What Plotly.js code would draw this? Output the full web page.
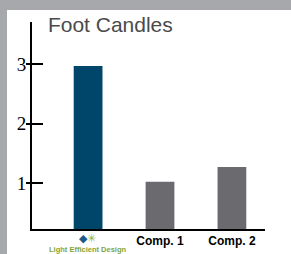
<!DOCTYPE html>
<html><head><meta charset="utf-8">
<script src="https://cdn.plot.ly/plotly-3.0.1.min.js"></script>
<style>
html,body{margin:0;padding:0;background:#a7a8ab;width:291px;height:254px;overflow:hidden}
#chart{position:absolute;left:7px;top:10px;width:284px;height:244px;background:#fff}
</style></head><body>
<div id="chart"></div>
<script>
const categories = ["LED", "Comp. 1", "Comp. 2"];
const tickLabels = ["", "<b>Comp. 1</b>", "<b>Comp. 2</b>"];
const logoText = "Light Efficient Design";
const values = [2.97, 1.02, 1.27];
const barColors = ["#00466a", "#6b6b6f", "#6b6b6f"];
const yTicks = [1, 2, 3];

const trace = {
  type: "bar", x: categories, y: values,
  marker: {color: barColors}, width: 0.4, hoverinfo: "none",
  base: 0
};
const yr = [0.224, 3.71];
const layout = {
  width: 284, height: 244,
  margin: {l: 25, r: 26, t: 12, b: 25, pad: 0},
  paper_bgcolor: "#ffffff", plot_bgcolor: "#ffffff",
  showlegend: false,
  title: {text: "Foot Candles", xref: "container", yref: "container", x: 0.144, xanchor: "left", y: 0.97, yanchor: "top",
    font: {family: "Liberation Sans Narrow, sans-serif", size: 21, color: "#4a4a4a"}},
  xaxis: {
    range: [-0.78, 2.46], type: "category", tickangle: 0, automargin: false,
    tickvals: categories, ticktext: tickLabels,
    showline: true, linecolor: "#000", linewidth: 2, ticks: "", showgrid: false, zeroline: false,
    tickfont: {family: "Liberation Sans Narrow, sans-serif", size: 12, color: "#000"}
  },
  yaxis: {
    range: yr, tickvals: yTicks, ticktext: yTicks.map(String), automargin: false,
    showline: true, linecolor: "#000", linewidth: 2, ticks: "inside", ticklen: 11, tickwidth: 2, tickcolor: "#000",
    showgrid: false, zeroline: false,
    tickfont: {family: "Liberation Serif, Times New Roman, serif", size: 19, color: "#000"}
  },
  yaxis2: {
    range: yr, overlaying: "y", side: "left", tickvals: yTicks, showticklabels: false,
    ticks: "outside", ticklen: 5, tickwidth: 2, tickcolor: "#000", showgrid: false, zeroline: false, showline: false
  },
  annotations: [
    {xref: "x", yref: "paper", x: categories[0], y: -0.008, yanchor: "top", showarrow: false, borderpad: 0,
     text: "<span style='color:#1d5a86;font-size:11px'>◆</span><span style='color:#8cb43c;font-size:11px'>✳</span><br><b>" + logoText + "</b>",
     font: {family: "Liberation Sans Narrow, sans-serif", size: 7.5, color: "#7fa53a"}}
  ]
};
const dummy = {type: "scatter", x: [categories[0]], y: [yTicks[0]], yaxis: "y2", mode: "markers", marker: {opacity: 0}, hoverinfo: "none"};
Plotly.newPlot("chart", [trace, dummy], layout, {staticPlot: true, displayModeBar: false});
</script>
</body></html>
